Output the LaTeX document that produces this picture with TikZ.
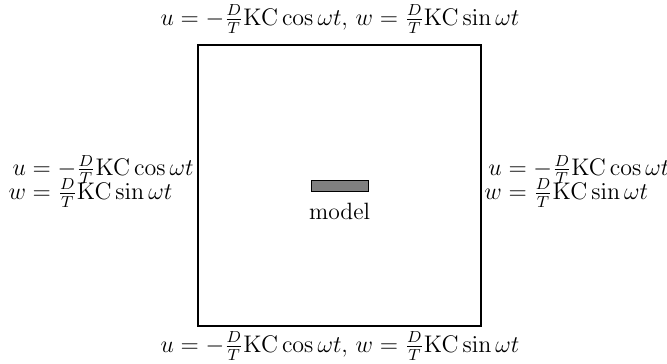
\documentclass[tikz,border=0pt]{standalone}
\usepackage{amsmath}
\begin{document}
\begin{tikzpicture}[x=0.5pt,y=-0.5pt,
  lbl/.style={inner sep=0pt,font=\fontsize{11.8}{14}\selectfont},
  domainbox/.style={draw,line width=0.6pt,minimum width=141.5pt,minimum height=140.5pt,inner sep=0pt},
  mdl/.style={draw,fill=gray,line width=0.4pt,minimum width=28.5pt,minimum height=5.5pt,inner sep=0pt}]
\useasboundingbox (0,0) rectangle (667,363);
\node[domainbox] (box) at (339.5,185.5) {};
\node[mdl] (m) at (339.5,185.5) {};
\node[lbl,anchor=north] (mt) at (339.5,203) {model};
\node[lbl] (top) at (340,19) {$u=-\frac{D}{T}\mathrm{KC}\cos\omega t,$ $w=\frac{D}{T}\mathrm{KC}\sin\omega t$};
\node[lbl] (bot) at (340,346) {$u=-\frac{D}{T}\mathrm{KC}\cos\omega t,$ $w=\frac{D}{T}\mathrm{KC}\sin\omega t$};
\node[lbl,anchor=east] (lft) at (194,181.5) {$\begin{aligned}u&=-\tfrac{D}{T}\mathrm{KC}\cos\omega t\\[-6.5pt] w&=\tfrac{D}{T}\mathrm{KC}\sin\omega t\end{aligned}$};
\node[lbl,anchor=west] (rgt) at (484,181.5) {$\begin{aligned}u&=-\tfrac{D}{T}\mathrm{KC}\cos\omega t\\[-6.5pt] w&=\tfrac{D}{T}\mathrm{KC}\sin\omega t\end{aligned}$};
\end{tikzpicture}
\end{document}
